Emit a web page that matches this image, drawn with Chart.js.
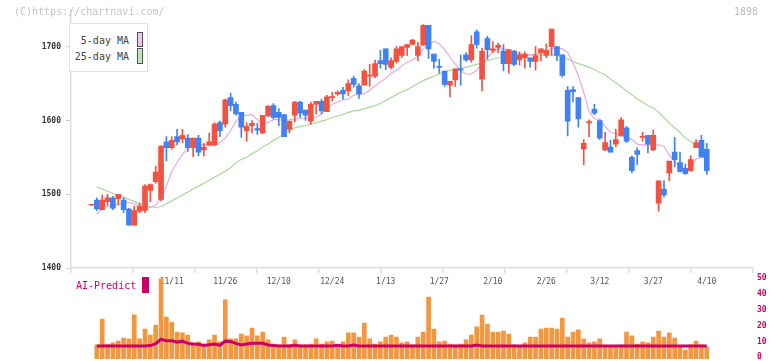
<!DOCTYPE html>
<html><head><meta charset="utf-8">
<script src="https://cdn.jsdelivr.net/npm/chart.js@4.4.1/dist/chart.umd.min.js"></script>
<style>
html,body{margin:0;padding:0;background:#fff;}
#wrap{position:relative;width:772px;height:361px;overflow:hidden;font-family:"DejaVu Sans Mono",monospace;}
canvas{position:absolute;left:0;top:0;}
.t{position:absolute;white-space:pre;line-height:12px;}
</style></head><body>
<div id="wrap">
<canvas id="c1" width="772" height="361"></canvas>
<canvas id="c2" width="772" height="361"></canvas>
<div class="t" style="left:14px;top:6px;font-size:10px;color:#c4c4c4">(C)https://chartnavi.com/</div>
<div class="t" style="left:734px;top:6px;font-size:10px;color:#bdbdbd">1898</div>
<div style="position:absolute;left:69px;top:23px;width:77px;height:47px;border:1.5px solid #e0e0e0;background:#fff;"></div>
<div class="t" style="left:70px;top:35px;width:59px;text-align:right;font-size:10px;color:#444">5-day MA</div>
<div class="t" style="left:70px;top:51px;width:59px;text-align:right;font-size:10px;color:#444">25-day MA</div>
<div style="position:absolute;left:137px;top:32px;width:4px;height:13px;border:1px solid #555;background:#f2c4f2;"></div>
<div style="position:absolute;left:137px;top:48px;width:4px;height:14px;border:1px solid #555;background:#c4e4b4;"></div>
<div class="t" style="left:76px;top:280px;font-size:10px;color:#cc0066">AI-Predict</div>
<div style="position:absolute;left:142px;top:277px;width:7px;height:16px;background:#cc0066;"></div>
</div>
<script>
const dates = ["10/20","10/21","10/22","10/23","10/24","10/27","10/28","10/29","10/30","10/31",
"11/4","11/5","11/6","11/7","11/10","11/11","11/12","11/13","11/14","11/17","11/18","11/19","11/20","11/21","11/25","11/26","11/27","11/28",
"12/1","12/2","12/3","12/4","12/5","12/8","12/9","12/10","12/11","12/12","12/15","12/16","12/17","12/18","12/19","12/22","12/23","12/24","12/25","12/26","12/29","12/30",
"1/5","1/6","1/7","1/8","1/9","1/13","1/14","1/15","1/16","1/19","1/20","1/21","1/22","1/23","1/26","1/27","1/28","1/29","1/30",
"2/2","2/3","2/4","2/5","2/6","2/9","2/10","2/12","2/13","2/16","2/17","2/18","2/19","2/20","2/24","2/25","2/26","2/27",
"3/2","3/3","3/4","3/5","3/6","3/9","3/10","3/11","3/12","3/13","3/16","3/17","3/18","3/19","3/23","3/24","3/25","3/26","3/27","3/30","3/31",
"4/1","4/2","4/3","4/6","4/7","4/8","4/9","4/10"];

const opens = [1485,1492,1479,1490,1495,1494,1492,1480,1458,1477,
1478,1505,1517,1493,1571,1563,1578,1575,1576,1563,
1576,1560,1567,1567,1597,1595,1631,1622,1611,1586,
1593,1589,1583,1606,1620,1611,1608,1588,1607,1625,
1614,1599,1622,1626,1612,1631,1636,1641,1640,1657,
1647,1648,1660,1660,1681,1697,1672,1680,1688,1699,
1703,1688,1702,1729,1690,1673,1667,1648,1655,1670,
1689,1682,1720,1656,1711,1695,1699,1694,1677,1694,
1682,1685,1685,1680,1692,1688,1700,1700,1689,1641,
1642,1631,1561,1597,1615,1600,1560,1564,1568,1579,
1590,1550,1559,1577,1580,1560,1488,1507,1529,1557,
1543,1535,1532,1563,1573,1561];
const highs = [1485,1495,1499,1500,1497,1500,1495,1481,1484,1488,
1513,1514,1538,1566,1578,1578,1588,1588,1581,1576,
1580,1569,1583,1597,1599,1629,1637,1625,1611,1597,
1600,1596,1607,1620,1623,1616,1608,1599,1626,1626,
1614,1625,1626,1629,1634,1638,1640,1645,1655,1660,
1650,1669,1676,1682,1695,1697,1685,1700,1700,1703,
1710,1706,1730,1729,1690,1683,1667,1653,1670,1689,
1692,1715,1723,1698,1714,1707,1705,1703,1696,1695,
1693,1693,1685,1700,1697,1704,1724,1700,1689,1646,
1646,1631,1574,1601,1622,1601,1584,1573,1588,1604,
1592,1552,1563,1584,1580,1587,1518,1518,1545,1577,
1557,1541,1552,1574,1580,1569];
const lows = [1485,1478,1479,1485,1479,1485,1475,1458,1458,1475,
1475,1490,1515,1491,1545,1561,1567,1570,1558,1551,
1552,1552,1566,1566,1578,1591,1613,1607,1577,1572,
1583,1581,1582,1605,1602,1593,1578,1583,1598,1604,
1600,1595,1609,1609,1612,1626,1634,1629,1634,1645,
1630,1648,1646,1658,1671,1669,1670,1678,1685,1688,
1702,1681,1702,1684,1671,1664,1646,1632,1646,1648,
1680,1679,1698,1640,1683,1692,1692,1667,1664,1674,
1675,1671,1672,1668,1681,1685,1688,1681,1659,1579,
1625,1591,1540,1578,1608,1574,1559,1557,1564,1579,
1570,1529,1540,1572,1556,1559,1477,1496,1518,1537,
1530,1527,1531,1563,1550,1527];
const closes = [1485,1480,1492,1495,1481,1500,1479,1458,1478,1484,
1511,1513,1530,1565,1563,1573,1571,1580,1563,1576,
1557,1564,1571,1595,1586,1628,1620,1609,1591,1592,
1596,1587,1607,1619,1604,1604,1578,1599,1625,1610,
1607,1622,1626,1613,1632,1632,1638,1636,1650,1649,
1636,1667,1661,1677,1677,1676,1681,1697,1700,1703,
1709,1700,1729,1697,1680,1672,1649,1653,1670,1668,
1682,1703,1703,1694,1696,1697,1702,1677,1696,1676,
1689,1690,1680,1688,1697,1695,1724,1688,1661,1599,
1639,1602,1569,1598,1610,1576,1570,1557,1574,1601,
1572,1532,1554,1578,1568,1580,1518,1499,1545,1547,
1531,1528,1547,1570,1551,1532];

const ma5 = [null,
1473,1481,1484,1485,1487,1488,1489,1487,1484,1482,
1482,1485,1495,1511,1531,1543,1554,1562,1566,1568,
1567,1566,1566,1570,1576,1586,1599,1606,1607,1608,
1601,1595,1597,1601,1601,1600,1601,1602,1603,1603,
1603,1604,1609,1616,1622,1625,1628,1629,1634,1636,
1636,1641,1647,1652,1657,1664,1668,1674,1679,1682,
1687,1697,1703,1707,1704,1696,1686,1676,1667,1663,
1663,1668,1678,1685,1693,1697,1697,1695,1692,1691,
1689,1689,1690,1692,1693,1697,1698,1697,1692,1678,
1661,1638,1612,1602,1602,1592,1584,1582,1580,1577,
1574,1568,1567,1567,1567,1567,1565,1553,1544,1539,
1534,1535,1548,1550,1550];
const ma25 = [null,
1510,1507,1504,1501,1498,1496,1493,1490,1487,1485,
1483,1482,1483,1487,1491,1495,1499,1503,1507,1511,
1515,1519,1523,1527,1531,1536,1543,1547,1550,1555,
1559,1564,1568,1573,1577,1582,1586,1590,1592,1593,
1595,1597,1599,1601,1604,1606,1608,1611,1613,1614,
1616,1618,1620,1623,1627,1631,1635,1639,1642,1646,
1650,1654,1657,1660,1663,1666,1668,1669,1671,1672,
1674,1676,1678,1681,1683,1685,1685,1686,1687,1688,
1688,1689,1689,1689,1689,1689,1688,1686,1683,1680,
1677,1675,1672,1669,1665,1662,1656,1651,1646,1640,
1635,1629,1625,1620,1617,1611,1604,1596,1590,1584,
1576,1571,1567,1563,1560];

const volume = [null,
7.8,24.2,8.4,9.1,10.3,12.2,11.6,26.8,11.6,17.9,
14.1,20.4,49.6,25.5,22.3,16,15.4,14.1,9.1,9.7,
8.4,11,14.1,9.7,36.3,11.6,11.6,14.7,13.5,18.5,
13.5,16,11,8.4,7.8,12.8,7.8,11,7.8,7.8,
8.4,11.6,8.4,9.7,10.3,7.8,9.7,15.4,15.4,12.8,
21.7,11.6,8.4,9.7,12.8,14.1,12.8,9.1,9.7,7.8,
12.8,16,38.1,17.9,9.7,10.3,8.4,7.8,8.4,11,
14.1,19.2,26.7,21,16,16,16.6,14.7,7.8,6.5,
9.1,12.8,12.8,17.9,18.5,18.5,17.9,24.8,12.8,16,
17.3,11.6,9.1,9.7,11.6,6.5,6.5,6.5,7.8,16,
13.5,8.4,9.7,9.1,12.8,16.6,12.8,15.4,12.2,6.5,
4.6,7.8,10.3,7.8,6.5];
const aiPredict = [null,
7.1,7.1,7.1,7.1,7.1,7.1,7.1,7.1,7.1,7.1,
7.4,8.6,11.4,10.5,10.4,9.6,10.2,8.8,8.4,8.2,
7.4,7.9,8.4,7.6,10.2,10,8.8,7.8,8.4,8.8,
8.9,8.8,7.8,7.4,7.1,7.1,7.1,7.6,7.1,7.1,
7.1,7.1,7.1,7.1,7.1,7.6,7.1,7.1,7.8,7.1,
7.1,7.1,7.1,7.1,7.1,7.1,7.1,7.1,7.1,7.1,
7.1,7.1,7.1,7.1,7.1,7.1,7.1,7.1,7.1,7.1,
7.1,7.8,7.1,7.1,7.1,7.1,7.1,7.1,7.1,7.1,
7.1,7.1,7.1,7.1,7.1,7.1,7.1,7.1,7.1,7.1,
7.1,7.1,7.1,7.1,7.1,7.1,7.1,7.1,7.1,7.1,
7.1,7.1,7.1,7.1,7.1,7.1,7.1,7.1,7.1,7.1,
7.1,7.1,7.1,7.1,7.1];

const priceTicks = [1400,1500,1600,1700];
const dateTicks = ["11/11","11/26","12/10","12/24","1/13","1/27","2/10","2/26","3/12","3/27","4/10"];
const volTicks = [0,10,20,30,40,50];

const MONO = "'DejaVu Sans Mono', monospace";
const X_MIN = -3.83, X_MAX = 123.64;
const UP = '#f25340', DOWN = '#4282f0';
const idx = dates.map((d, i) => i);
const candleColor = idx.map(i => closes[i] >= opens[i] ? UP : DOWN);

new Chart(document.getElementById('c1'), {
  type: 'bar',
  data: { datasets: [
    { type: 'bar', data: idx.map(i => ({x: i, y: [opens[i], closes[i]]})), backgroundColor: candleColor,
      barThickness: 5, minBarLength: 1, grouped: false, order: 0 },
    { type: 'bar', data: idx.map(i => ({x: i, y: [lows[i], highs[i]]})), backgroundColor: candleColor,
      barThickness: 1, minBarLength: 1, grouped: false, order: 1 },
    { type: 'line', data: idx.map(i => ({x: i, y: ma5[i]})), borderColor: '#e6a8e6', borderWidth: 1.2,
      pointRadius: 0, order: 2 },
    { type: 'line', data: idx.map(i => ({x: i, y: ma25[i]})), borderColor: '#a8d898', borderWidth: 1.2,
      pointRadius: 0, order: 3 }
  ]},
  options: {
    responsive: false, animation: false, devicePixelRatio: 1,
    layout: { padding: { top: 9, right: 19, left: 0, bottom: 0 } },
    plugins: { legend: { display: false }, tooltip: { enabled: false } },
    scales: {
      x: { type: 'linear', min: X_MIN, max: X_MAX, offset: false, position: 'bottom', weight: 1,
        grid: { display: false, drawTicks: false }, border: { display: false },
        afterBuildTicks: s => { s.ticks = dateTicks.map(d => ({ value: dates.indexOf(d) })); },
        ticks: { autoSkip: false, maxRotation: 0, padding: 9, font: { family: MONO, size: 8 }, color: '#555',
          callback: v => dates[v] ?? '' },
        afterFit: s => { s.height = 93; } },
      xg: { type: 'linear', min: X_MIN, max: X_MAX, offset: false, position: 'bottom', weight: 0,
        grid: { drawOnChartArea: false, drawTicks: true, tickLength: 5, color: '#dddddd', lineWidth: 1.5, offset: false },
        border: { display: true, color: '#dddddd', width: 1.5 },
        ticks: { display: false },
        afterBuildTicks: s => { s.ticks = Array.from({length: 12}, (_, k) => ({ value: X_MIN + k * (X_MAX - X_MIN) / 11 })); },
        afterFit: s => { s.height = 0; } },
      y: { type: 'linear', min: 1400, max: 1750, position: 'left',
        afterBuildTicks: s => { s.ticks = priceTicks.map(v => ({ value: v })); },
        grid: { drawOnChartArea: false, tickLength: 5, color: '#cccccc' },
        border: { display: true, color: '#dddddd', width: 1.5 },
        ticks: { padding: 5, font: { family: MONO, size: 8, weight: 'bold' }, color: '#333',
          callback: v => String(v) },
        afterFit: s => { s.width = 71; } }
    }
  }
});

new Chart(document.getElementById('c2'), {
  type: 'bar',
  data: { datasets: [
    { type: 'line', data: idx.map(i => ({x: i, y: aiPredict[i]})), borderColor: '#cc0066', borderWidth: 3,
      pointRadius: 0, order: 0 },
    { type: 'bar', data: idx.map(i => ({x: i, y: volume[i]})), backgroundColor: '#f29640',
      barThickness: 4, base: -1.1, grouped: false, order: 1 }
  ]},
  options: {
    responsive: false, animation: false, devicePixelRatio: 1,
    layout: { padding: { top: 278.3, right: 0, left: 71, bottom: 2 } },
    plugins: { legend: { display: false }, tooltip: { enabled: false } },
    scales: {
      x: { type: 'linear', min: X_MIN, max: X_MAX, offset: false, display: false },
      y: { type: 'linear', min: -1.1, max: 50, position: 'right',
        afterBuildTicks: s => { s.ticks = volTicks.map(v => ({ value: v })); },
        grid: { display: false, drawTicks: false }, border: { display: false },
        ticks: { padding: 4, font: { family: MONO, size: 8, weight: 'bold' }, color: '#cc0066',
          callback: v => String(v) },
        afterFit: s => { s.width = 19; s.paddingTop = 0; s.paddingBottom = 0; } }
    }
  }
});
</script>
</body></html>
